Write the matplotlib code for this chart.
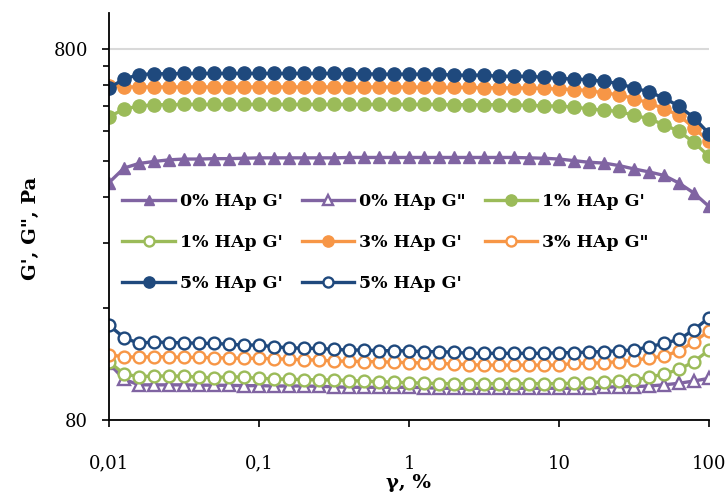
import matplotlib
matplotlib.use('Agg')
import matplotlib.pyplot as plt
from matplotlib.ticker import FixedLocator, NullFormatter, FixedFormatter

# strain amplitude, %
strain = [0.01, 0.0126, 0.0158, 0.02, 0.0251, 0.0316, 0.0398, 0.0501, 0.0631, 0.0794,
          0.1, 0.126, 0.158, 0.2, 0.251, 0.316, 0.398, 0.501, 0.631, 0.794,
          1, 1.26, 1.58, 2, 2.51, 3.16, 3.98, 5.01, 6.31, 7.94,
          10, 12.6, 15.8, 20, 25.1, 31.6, 39.8, 50.1, 63.1, 79.4, 100]

g1_0 = [349, 382, 393, 398, 402, 404, 404, 405, 405, 406,
        407, 407, 407, 407, 407, 407, 408, 408, 408, 408,
        408, 408, 408, 408, 408, 408, 408, 408, 407, 406,
        404, 400, 396, 394, 388, 380, 373, 365, 348, 327, 301]
g2_0 = [113.7, 103, 99.5, 99.5, 99.5, 99.5, 99.3, 99.3, 99.2, 99.0,
        99.0, 98.8, 98.8, 98.8, 98.6, 98.3, 98.0, 98.0, 98.0, 98.0,
        98.0, 97.8, 97.4, 97.4, 97.4, 97.4, 97.4, 97.4, 97.4, 97.4,
        97.4, 97.4, 97.6, 98.0, 98.4, 98.4, 98.8, 99.5, 100.5, 101.9, 103.6]
g1_1 = [525, 551, 561, 566, 566, 567, 567, 567, 567, 567,
        567, 567, 567, 567, 567, 567, 567, 567, 567, 567,
        567, 567, 567, 566, 566, 566, 566, 565, 564, 562,
        561, 558, 552, 547, 543, 530, 519, 500, 480, 448, 411]
g2_1 = [114.9, 106.4, 104.7, 105.1, 105.1, 105.1, 104.3, 104.0, 104.7, 104.3,
        103.6, 103.3, 103.0, 102.8, 102.6, 102.6, 102.2, 101.8, 101.5, 101.2,
        100.8, 100.6, 100.3, 100.3, 100.3, 100.3, 100.3, 100.3, 100.3, 100.3,
        100.3, 100.5, 100.8, 101.5, 101.9, 102.6, 104.3, 106.4, 109.5, 114.9, 123.5]
g1_3 = [637, 632, 632, 632, 632, 632, 632, 632, 632, 632,
        632, 632, 632, 632, 632, 632, 632, 632, 632, 632,
        632, 631, 630, 630, 630, 629, 629, 628, 628, 626,
        624, 622, 618, 609, 602, 588, 572, 552, 530, 490, 451]
g2_3 = [119.7, 118.6, 118.0, 118.6, 118.3, 118.0, 118.0, 117.8, 117.5, 117.3,
        117.3, 117.0, 116.6, 116.3, 116.0, 115.4, 115.2, 115.0, 114.9, 114.5,
        114.2, 114.0, 113.7, 113.2, 112.8, 112.5, 112.5, 112.5, 112.5, 112.5,
        112.5, 113.7, 113.7, 114.2, 114.9, 116.0, 117.3, 119.0, 122.8, 130, 139]
g1_5 = [628, 664, 682, 686, 686, 687, 687, 687, 687, 687,
        687, 687, 687, 687, 687, 687, 686, 686, 684, 684,
        684, 684, 684, 680, 680, 680, 675, 675, 675, 671,
        666, 664, 661, 654, 645, 628, 613, 590, 561, 522, 473]
g2_5 = [144, 133.4, 128.7, 130, 129.3, 129.3, 128.7, 128.7, 128.0, 127.4,
        127.4, 126.0, 125.3, 124.8, 124.8, 124.0, 123.5, 123.5, 123.0, 123.0,
        122.8, 122.3, 122.3, 121.8, 121.0, 121.0, 121.0, 121.0, 121.0, 121.0,
        121.5, 121.5, 122.0, 122.3, 123.0, 123.5, 126.0, 128.7, 132, 140, 151]

labels = ["0% HAp G'", '0% HAp G"', "1% HAp G'", "1% HAp G'",
          "3% HAp G'", '3% HAp G"', "5% HAp G'", "5% HAp G'"]

PURPLE = '#8064A2'
GREEN = '#9BBB59'
ORANGE = '#F79646'
NAVY = '#1F497D'

series = [
    (g1_0, PURPLE, '^', True),
    (g2_0, PURPLE, '^', False),
    (g1_1, GREEN, 'o', True),
    (g2_1, GREEN, 'o', False),
    (g1_3, ORANGE, 'o', True),
    (g2_3, ORANGE, 'o', False),
    (g1_5, NAVY, 'o', True),
    (g2_5, NAVY, 'o', False),
]

plt.rcParams['font.family'] = 'DejaVu Serif'

fig = plt.figure(figsize=(7.25, 4.94), dpi=100)
ax = fig.add_axes([109 / 725, 74 / 494, 600 / 725, 407 / 494])

handles = []
for (vals, col, mk, filled), lab in zip(series, labels):
    ms = 9.5 if mk == 'o' else 9
    if filled:
        h, = ax.plot(strain, vals, color=col, lw=2.4, marker=mk, markersize=ms,
                     markerfacecolor=col, markeredgecolor=col, markeredgewidth=1, label=lab)
    else:
        h, = ax.plot(strain, vals, color=col, lw=2.4, marker=mk, markersize=ms - 1,
                     markerfacecolor='white', markeredgecolor=col, markeredgewidth=1.7, label=lab)
    handles.append(h)

ax.set_xscale('log')
ax.set_yscale('log')
ax.set_xlim(0.01, 100)
ax.set_ylim(80, 1000)

ax.xaxis.set_major_locator(FixedLocator([0.01, 0.1, 1, 10, 100]))
ax.xaxis.set_major_formatter(FixedFormatter(['0,01', '0,1', '1', '10', '100']))
ax.xaxis.set_minor_locator(FixedLocator([]))
ax.yaxis.set_major_locator(FixedLocator([80, 800]))
ax.yaxis.set_major_formatter(FixedFormatter(['80', '800']))
ax.yaxis.set_minor_locator(FixedLocator([160, 240, 320, 400, 480, 560, 640, 720]))
ax.yaxis.set_minor_formatter(NullFormatter())

ax.tick_params(axis='x', which='major', length=5, width=1.2, pad=20, labelsize=13)
ax.tick_params(axis='y', which='major', length=5, width=1.2, pad=10, labelsize=13)
ax.tick_params(axis='y', which='minor', length=4, width=1.2)

ax.yaxis.grid(True, which='major', color='#D9D9D9', lw=1.5)
ax.set_axisbelow(True)
for s in ['top', 'right']:
    ax.spines[s].set_visible(False)
for s in ['left', 'bottom']:
    ax.spines[s].set_linewidth(1.3)
    ax.spines[s].set_color('black')

fig.text(409 / 725, 1 - 483 / 494, 'γ, %', ha='center', va='center',
         fontsize=14, fontweight='bold')
fig.text(31 / 725, 1 - 228 / 494, 'G\', G", Pa', ha='center', va='center',
         rotation=90, fontsize=14, fontweight='bold')

# Excel fills the legend row by row, matplotlib column by column
order = [0, 3, 6, 1, 4, 7, 2, 5]
leg = ax.legend([handles[i] for i in order], [labels[i] for i in order],
                ncol=3, loc='upper left', bbox_to_anchor=(0.008, 0.58),
                frameon=False, borderpad=0, handlelength=3.0, handletextpad=0.3,
                columnspacing=1.1, labelspacing=1.4, markerscale=0.85,
                prop={'weight': 'bold', 'size': 12.5})

fig.savefig('out.png', dpi=100)
